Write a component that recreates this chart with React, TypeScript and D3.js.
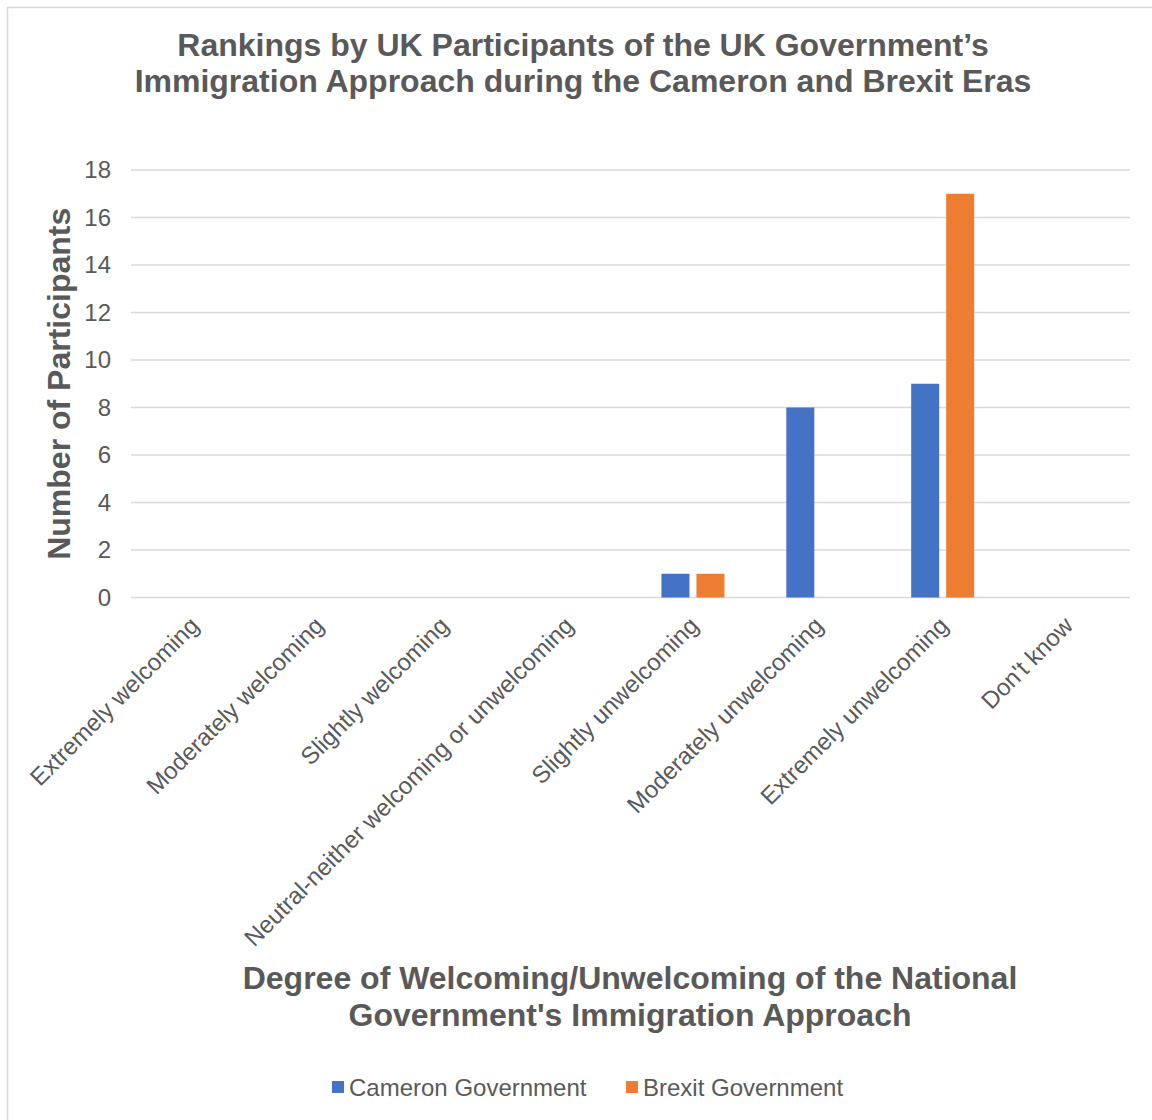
import React from "react";
import * as d3 from "d3";

const categories = [
  "Extremely welcoming",
  "Moderately welcoming",
  "Slightly welcoming",
  "Neutral-neither welcoming or unwelcoming",
  "Slightly unwelcoming",
  "Moderately unwelcoming",
  "Extremely unwelcoming",
  "Don't know",
];
const seriesNames = ["Cameron Government", "Brexit Government"];
const cameronValues = [0, 0, 0, 0, 1, 8, 9, 0];
const brexitValues = [0, 0, 0, 0, 1, 0, 17, 0];
const seriesColors = ["#4472C4", "#ED7D31"];
const yTicks = [0, 2, 4, 6, 8, 10, 12, 14, 16, 18];
const titleLines = [
  "Rankings by UK Participants of the UK Government\u2019s",
  "Immigration Approach during the Cameron and Brexit Eras",
];
const xTitleLines = [
  "Degree of Welcoming/Unwelcoming of the National",
  "Government's Immigration Approach",
];
const yTitle = "Number of Participants";

const W = 1152;
const H = 1120;
const plot = { left: 131, right: 1130, top: 170, bottom: 597.5 };
const textColor = "#595959";
const gridColor = "#D9D9D9";
const font = "Arial, 'Liberation Sans', sans-serif";

export default function App() {
  const x0 = d3.scaleBand<string>().domain(categories).range([plot.left, plot.right]).padding(0);
  const y = d3.scaleLinear().domain([0, 18]).range([plot.bottom, plot.top]);
  const groupW = 63;
  const x1 = d3.scaleBand<string>().domain(seriesNames).range([-groupW / 2, groupW / 2]).paddingInner(0.2);
  const allValues = [cameronValues, brexitValues];

  return (
    <svg
      width={W}
      height={H}
      style={{ position: "absolute", left: 0, top: 0, background: "#fff" }}
      fontFamily={font}
    >
      <rect x={0} y={0} width={W} height={H} fill="#fff" />
      <rect x={7.5} y={7.5} width={W + 20} height={H + 20} fill="none" stroke={gridColor} strokeWidth={1.5} />
      {titleLines.map((t, i) => (
        <text key={t} x={583} y={56 + i * 36} textAnchor="middle" fontSize={32} fontWeight="bold" fill={textColor}>
          {t}
        </text>
      ))}
      {yTicks.map((t) => (
        <g key={t}>
          <line x1={plot.left} x2={plot.right} y1={y(t)} y2={y(t)} stroke={gridColor} strokeWidth={1.3} />
          <text x={111} y={y(t)} dy="0.35em" textAnchor="end" fontSize={24} fill={textColor}>
            {t}
          </text>
        </g>
      ))}
      {categories.map((c, ci) => {
        const cx = (x0(c) as number) + x0.bandwidth() / 2;
        return (
          <g key={c}>
            {seriesNames.map((s, si) => {
              const v = allValues[si][ci];
              if (!v) return null;
              return (
                <rect
                  key={s}
                  x={cx + (x1(s) as number)}
                  width={x1.bandwidth()}
                  y={y(v)}
                  height={y(0) - y(v)}
                  fill={seriesColors[si]}
                />
              );
            })}
            <text
              transform={`translate(${cx + 7},${627}) rotate(-45)`}
              textAnchor="end"
              fontSize={24}
              fill={textColor}
            >
              {c}
            </text>
          </g>
        );
      })}
      <text
        transform={`translate(70,${(plot.top + plot.bottom) / 2}) rotate(-90)`}
        textAnchor="middle"
        fontSize={32}
        fontWeight="bold"
        fill={textColor}
      >
        {yTitle}
      </text>
      {xTitleLines.map((t, i) => (
        <text key={t} x={630} y={989 + i * 37} textAnchor="middle" fontSize={32} fontWeight="bold" fill={textColor}>
          {t}
        </text>
      ))}
      <g>
        <rect x={332} y={1081} width={12} height={12} fill={seriesColors[0]} />
        <text x={349} y={1096} fontSize={24} fill={textColor}>
          {seriesNames[0]}
        </text>
        <rect x={626} y={1081} width={12} height={12} fill={seriesColors[1]} />
        <text x={643} y={1096} fontSize={24} fill={textColor}>
          {seriesNames[1]}
        </text>
      </g>
    </svg>
  );
}
